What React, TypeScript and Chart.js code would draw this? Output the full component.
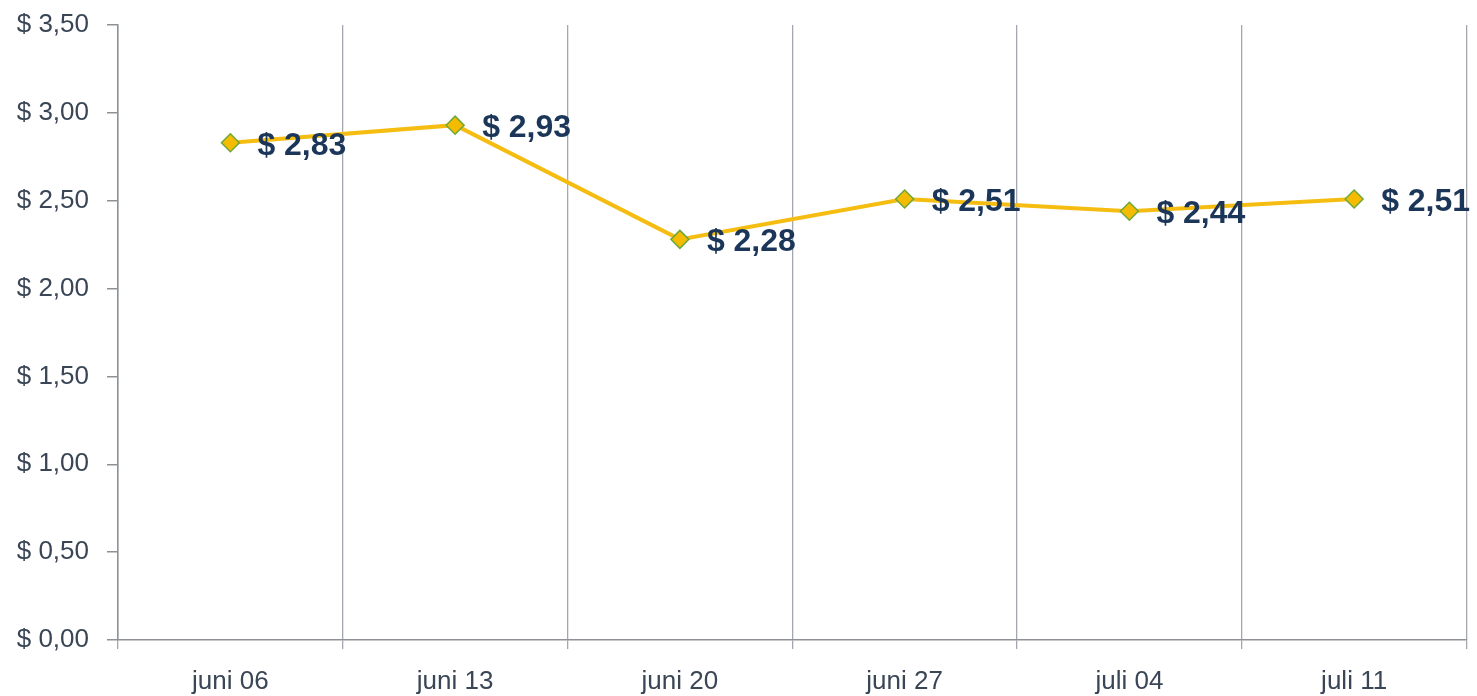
import React, { useEffect, useRef } from "react";
import { Chart, registerables } from "chart.js";

Chart.register(...registerables);

const categories = ["juni 06", "juni 13", "juni 20", "juni 27", "juli 04", "juli 11"];
const values = [2.83, 2.93, 2.28, 2.51, 2.44, 2.51];
const yTickValues = [0, 0.5, 1, 1.5, 2, 2.5, 3, 3.5];

const fmt = (v: number) => "$ " + v.toFixed(2).replace(".", ",");

const labelPlugin = {
  id: "valueLabels",
  afterDatasetsDraw(chart: any) {
    const ctx = chart.ctx;
    const meta = chart.getDatasetMeta(0);
    ctx.save();
    ctx.font = "bold 32px 'Liberation Sans', Arial, sans-serif";
    ctx.fillStyle = "#1b3658";
    ctx.textAlign = "left";
    ctx.textBaseline = "middle";
    meta.data.forEach((pt: any, i: number) => {
      ctx.fillText(fmt(values[i]), pt.x + 27, pt.y + 3);
    });
    ctx.restore();
  },
};

export default function App() {
  const ref = useRef<HTMLCanvasElement>(null);
  useEffect(() => {
    if (!ref.current) return;
    const chart = new Chart(ref.current, {
      type: "line",
      data: {
        labels: categories,
        datasets: [
          {
            data: values,
            borderColor: "#f5bd12",
            borderWidth: 4,
            pointStyle: "rectRot",
            pointRadius: 9,
            pointBackgroundColor: "#f4bb00",
            pointBorderColor: "#6ea83a",
            pointBorderWidth: 1.5,
            tension: 0,
          },
        ],
      },
      options: {
        animation: false,
        responsive: false,
        maintainAspectRatio: false,
        layout: { padding: { top: 25, right: 8, left: 0, bottom: 0 } },
        plugins: { legend: { display: false }, tooltip: { enabled: false } },
        scales: {
          x: {
            offset: true,
            grid: {
              offset: true,
              color: "#a4a8ae",
              lineWidth: 1.3,
              drawTicks: true,
              tickLength: 9,
            },
            border: { color: "#8e9196", width: 1.5 },
            ticks: {
              color: "#3a4656",
              font: { family: "'Liberation Sans', Arial, sans-serif", size: 26 },
              padding: 17,
              maxRotation: 0,
            },
            afterFit(scale: any) {
              scale.height = 56;
              scale.paddingLeft = 0;
              scale.paddingRight = 0;
            },
          },
          y: {
            min: 0,
            max: 3.5,
            afterBuildTicks(scale: any) {
              scale.ticks = yTickValues.map((v) => ({ value: v }));
            },
            grid: {
              drawOnChartArea: false,
              color: "#8e9196",
              tickLength: 11,
              lineWidth: 1.5,
            },
            border: { color: "#8e9196", width: 1.5 },
            ticks: {
              color: "#3a4656",
              font: { family: "'Liberation Sans', Arial, sans-serif", size: 26 },
              padding: 18,
              callback: (v: any) => fmt(Number(v)),
            },
            afterFit(scale: any) {
              scale.width = 118;
              scale.paddingTop = 0;
              scale.paddingBottom = 0;
            },
          },
        },
      },
      plugins: [labelPlugin],
    });
    return () => chart.destroy();
  }, []);
  return (
    <div style={{ position: "absolute", left: 0, top: 0, width: 1477, height: 696, background: "#fff" }}>
      <canvas ref={ref} width={1477} height={696} style={{ width: 1477, height: 696 }} />
    </div>
  );
}
